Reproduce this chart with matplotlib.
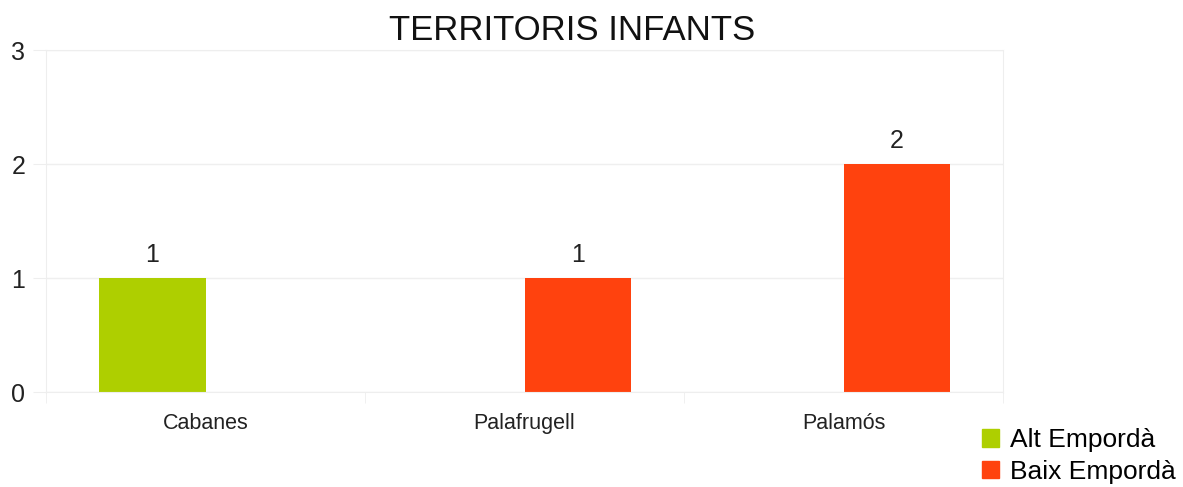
import numpy as np
import matplotlib.pyplot as plt
from matplotlib.patches import Patch

plt.rcParams['font.family'] = ['Liberation Sans', 'DejaVu Sans']

categories = ["Cabanes", "Palafrugell", "Palamós"]
series_names = ["Alt Empordà", "Baix Empordà"]
alt_emporda = [1, 0, 0]
baix_emporda = [0, 1, 2]
colors = ["#AECF00", "#FF420E"]

fig = plt.figure(figsize=(11.83, 4.87), dpi=100)
ax = fig.add_axes([46/1183, 95/487, (1003-46)/1183, (392-50)/487])

x = np.arange(len(categories))
w = 0.335
for i, (vals, col) in enumerate(zip([alt_emporda, baix_emporda], colors)):
    pos = x + (i - 0.5) * w
    bars = ax.bar(pos, vals, width=w, color=col, label=series_names[i])
    for b, v in zip(bars, vals):
        if v:
            ax.text(b.get_x() + b.get_width()/2, v + 0.1, str(v),
                    ha='center', va='bottom', fontsize=18, color='#222222')

ax.set_xlim(-0.5, 2.5)
ax.set_ylim(0, 3)
ax.set_yticks([0, 1, 2, 3])
ax.yaxis.grid(True, color='#efefef', linewidth=1)
ax.set_axisbelow(True)
ax.set_xticks(x)
ax.set_xticklabels(categories, fontsize=15.5)
ax.set_xticks([-0.5, 0.5, 1.5, 2.5], minor=True)
ax.tick_params(axis='x', which='major', length=0, pad=15, colors='#222222')
ax.tick_params(axis='x', which='minor', length=8, color='#eeeeee')
ax.tick_params(axis='y', length=9.5, color='#eeeeee', labelsize=18, pad=5.5,
               labelcolor='#222222')
for s in ax.spines.values():
    s.set_color('#eeeeee')

fig.text(572/1183, 1 - 30/487, "TERRITORIS INFANTS", ha='center', va='center',
         fontsize=25, color='#111111')

handles = [Patch(color=c) for c in colors]
fig.legend(handles, series_names, loc='upper left',
           bbox_to_anchor=(982/1183, 1 - 428/487), frameon=False,
           fontsize=19, handlelength=0.65, handleheight=0.65,
           handletextpad=0.4, labelspacing=0.3, borderaxespad=0, borderpad=0)

fig.savefig("out.png", dpi=100)
